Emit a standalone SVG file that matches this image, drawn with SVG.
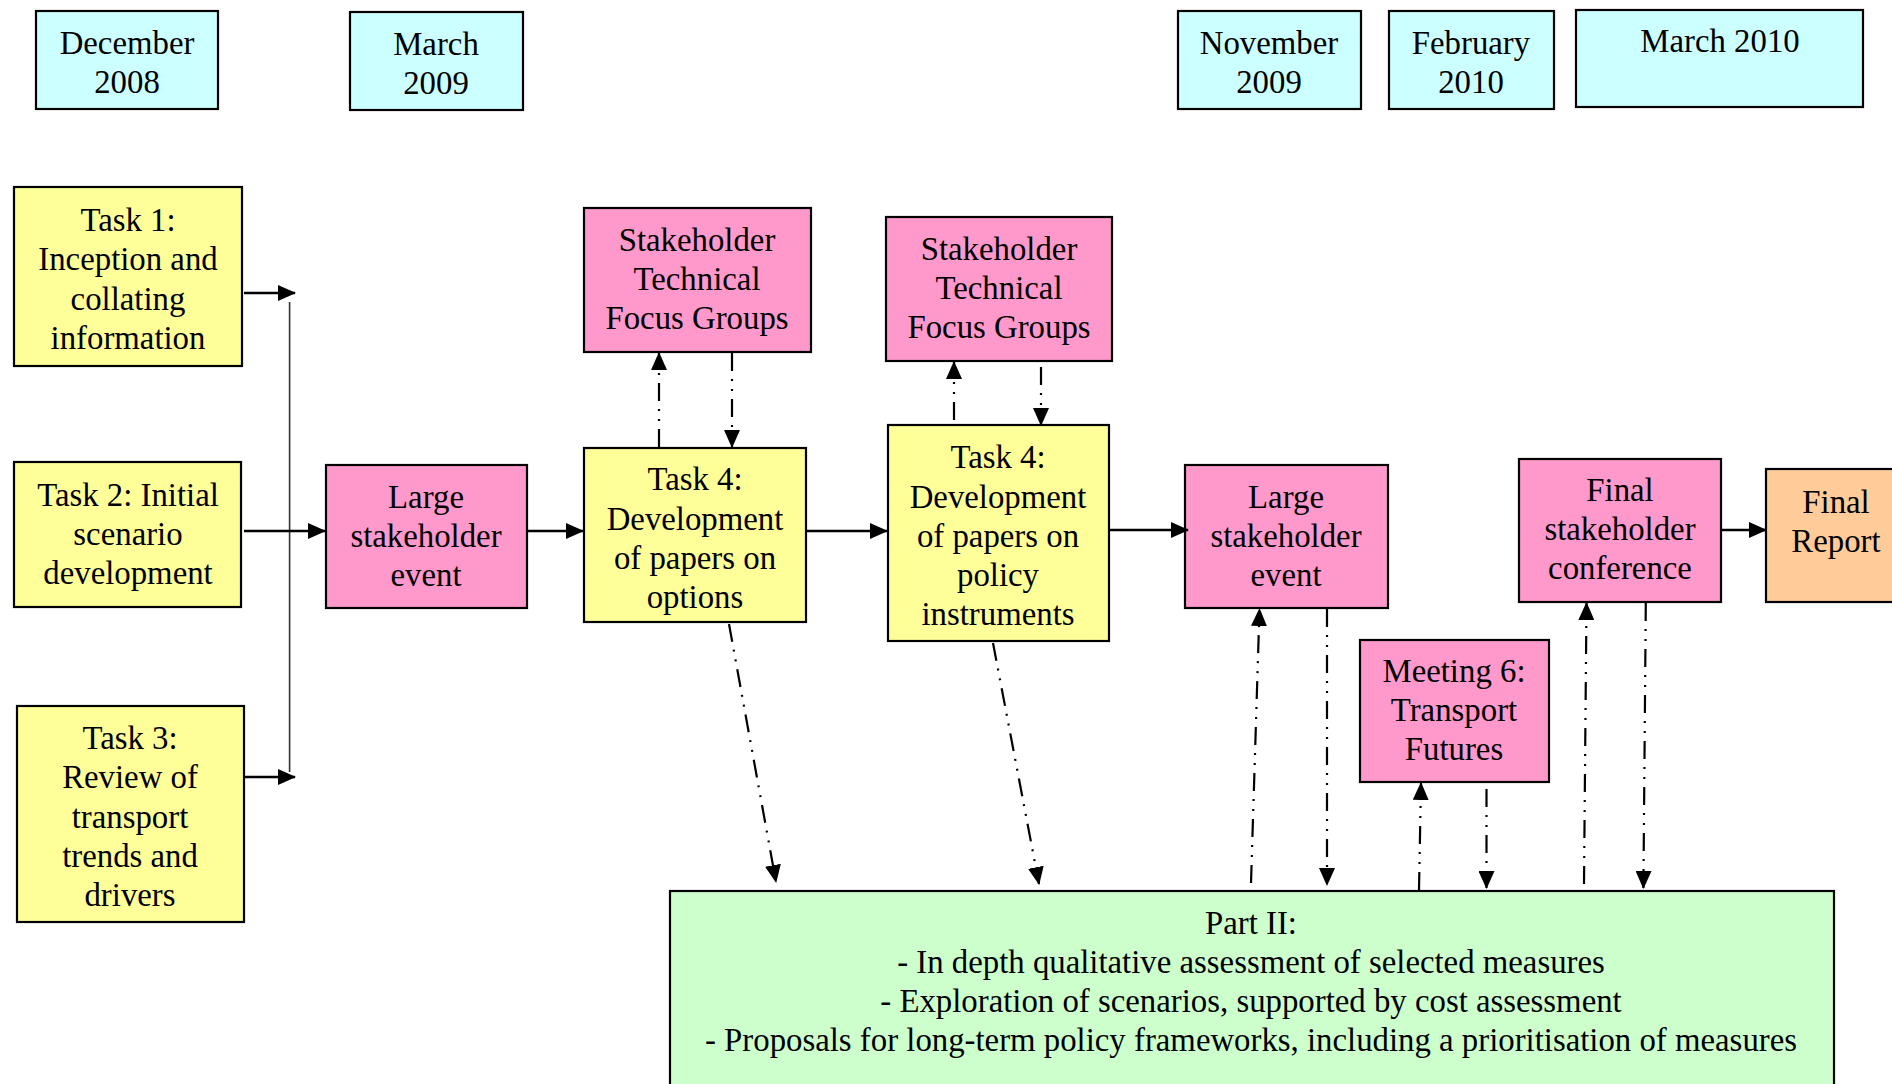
<svg xmlns="http://www.w3.org/2000/svg" width="1892" height="1084" viewBox="0 0 1892 1084">
<style>
.box{stroke:#000;stroke-width:2.2}
.date{fill:#CCFFFF}
.task{fill:#FFFF99}
.pink{fill:#FF99CC}
.orange{fill:#FFCC99}
.green{fill:#CCFFCC}
text{font-family:"Liberation Serif","Times New Roman",serif;font-size:32.8px;fill:#000;text-anchor:middle}
.solid{stroke:#000;stroke-width:2.6;fill:none}
.thin{stroke:#333;stroke-width:1.6;fill:none}
.dd{stroke:#000;stroke-width:2.2;fill:none;stroke-dasharray:18 8 2 8 2 8}
</style>
<defs>
<marker id="ah" markerUnits="userSpaceOnUse" markerWidth="18" markerHeight="16" refX="17" refY="8" orient="auto" viewBox="0 0 18 16">
<path d="M0,0 L18,8 L0,16 z" fill="#000"/>
</marker>
</defs>
<rect width="1892" height="1084" fill="#fff"/>

<g id="date-dec2008"><rect class="box date" x="36" y="11" width="182" height="98"/><text x="127" y="54">December</text><text x="127" y="93">2008</text></g>
<g id="date-mar2009"><rect class="box date" x="350" y="12" width="173" height="98"/><text x="436" y="55">March</text><text x="436" y="94">2009</text></g>
<g id="date-nov2009"><rect class="box date" x="1178" y="11" width="183" height="98"/><text x="1269" y="54">November</text><text x="1269" y="93">2009</text></g>
<g id="date-feb2010"><rect class="box date" x="1389" y="11" width="165" height="98"/><text x="1471" y="54">February</text><text x="1471" y="93">2010</text></g>
<g id="date-mar2010"><rect class="box date" x="1576" y="10" width="287" height="97"/><text x="1720" y="52">March 2010</text></g>

<g id="task1"><rect class="box task" x="14" y="187" width="228" height="179"/><text x="128" y="231">Task 1:</text><text x="128" y="270">Inception and</text><text x="128" y="310">collating</text><text x="128" y="349">information</text></g>
<g id="task2"><rect class="box task" x="14" y="462" width="227" height="145"/><text x="128" y="506">Task 2: Initial</text><text x="128" y="545">scenario</text><text x="128" y="584">development</text></g>
<g id="task3"><rect class="box task" x="17" y="706" width="227" height="216"/><text x="130" y="749">Task 3:</text><text x="130" y="788">Review of</text><text x="130" y="828">transport</text><text x="130" y="867">trends and</text><text x="130" y="906">drivers</text></g>

<g id="lse1"><rect class="box pink" x="326" y="465" width="201" height="143"/><text x="426" y="508">Large</text><text x="426" y="547">stakeholder</text><text x="426" y="586">event</text></g>
<g id="stfg1"><rect class="box pink" x="584" y="208" width="227" height="144"/><text x="697" y="251">Stakeholder</text><text x="697" y="290">Technical</text><text x="697" y="329">Focus Groups</text></g>
<g id="task4a"><rect class="box task" x="584" y="448" width="222" height="174"/><text x="695" y="490">Task 4:</text><text x="695" y="530">Development</text><text x="695" y="569">of papers on</text><text x="695" y="608">options</text></g>
<g id="stfg2"><rect class="box pink" x="886" y="217" width="226" height="144"/><text x="999" y="260">Stakeholder</text><text x="999" y="299">Technical</text><text x="999" y="338">Focus Groups</text></g>
<g id="task4b"><rect class="box task" x="888" y="425" width="221" height="216"/><text x="998" y="468">Task 4:</text><text x="998" y="508">Development</text><text x="998" y="547">of papers on</text><text x="998" y="586">policy</text><text x="998" y="625">instruments</text></g>
<g id="lse2"><rect class="box pink" x="1185" y="465" width="203" height="143"/><text x="1286" y="508">Large</text><text x="1286" y="547">stakeholder</text><text x="1286" y="586">event</text></g>
<g id="meeting6"><rect class="box pink" x="1360" y="640" width="189" height="142"/><text x="1454" y="682">Meeting 6:</text><text x="1454" y="721">Transport</text><text x="1454" y="760">Futures</text></g>
<g id="fsc"><rect class="box pink" x="1519" y="459" width="202" height="143"/><text x="1620" y="501">Final</text><text x="1620" y="540">stakeholder</text><text x="1620" y="579">conference</text></g>
<g id="final-report"><rect class="box orange" x="1766" y="469" width="140" height="133"/><text x="1836" y="513">Final</text><text x="1836" y="552">Report</text></g>
<g id="part2"><rect class="box green" x="670" y="891" width="1164" height="200"/><text x="1251" y="934">Part II:</text><text x="1251" y="973">- In depth qualitative assessment of selected measures</text><text x="1251" y="1012">- Exploration of scenarios, supported by cost assessment</text><text x="1251" y="1051">- Proposals for long-term policy frameworks, including a prioritisation of measures</text></g>

<g id="connectors">
<line class="thin" x1="289.6" y1="302" x2="289.6" y2="772"/>
<line class="solid" x1="244" y1="293" x2="295" y2="293" marker-end="url(#ah)"/>
<line class="solid" x1="244" y1="531" x2="325" y2="531" marker-end="url(#ah)"/>
<line class="solid" x1="245" y1="777" x2="295" y2="777" marker-end="url(#ah)"/>
<line class="solid" x1="528" y1="531" x2="583" y2="531" marker-end="url(#ah)"/>
<line class="solid" x1="806" y1="531" x2="887" y2="531" marker-end="url(#ah)"/>
<line class="solid" x1="1109" y1="530" x2="1188" y2="530" marker-end="url(#ah)"/>
<line class="solid" x1="1721" y1="530" x2="1766" y2="530" marker-end="url(#ah)"/>

<line class="dd" x1="659" y1="447" x2="659" y2="353" marker-end="url(#ah)"/>
<line class="dd" x1="732" y1="353" x2="732" y2="447" marker-end="url(#ah)"/>
<line class="dd" x1="954" y1="420" x2="954" y2="362" marker-end="url(#ah)"/>
<line class="dd" x1="1041" y1="367" x2="1041" y2="425" marker-end="url(#ah)"/>

<line class="dd" x1="729" y1="624" x2="776" y2="882" marker-end="url(#ah)"/>
<line class="dd" x1="993" y1="643" x2="1039" y2="884" marker-end="url(#ah)"/>
<line class="dd" x1="1251" y1="883" x2="1259.5" y2="609" marker-end="url(#ah)"/>
<line class="dd" x1="1327" y1="609" x2="1327" y2="885" marker-end="url(#ah)"/>
<line class="dd" x1="1419" y1="890" x2="1421" y2="783" marker-end="url(#ah)"/>
<line class="dd" x1="1486.5" y1="789" x2="1486.5" y2="888" marker-end="url(#ah)"/>
<line class="dd" x1="1584" y1="884" x2="1586.5" y2="603" marker-end="url(#ah)"/>
<line class="dd" x1="1645.8" y1="603" x2="1643.4" y2="888" marker-end="url(#ah)"/>
</g>
</svg>
